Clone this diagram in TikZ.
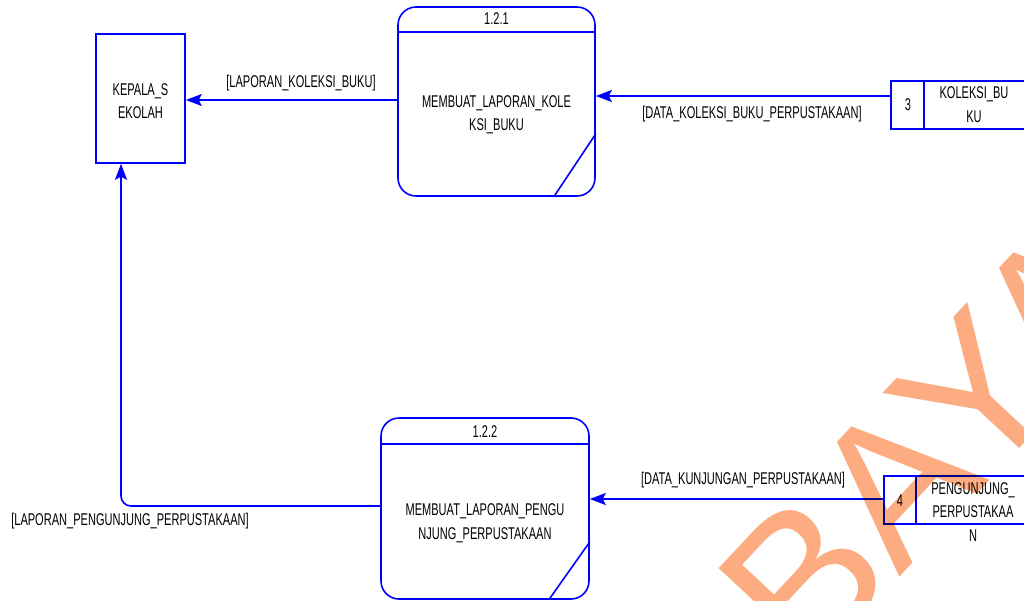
\documentclass[tikz,border=0pt]{standalone}
\usepackage{fontspec}
\setmainfont{Liberation Sans}[FakeStretch=0.65]
\newfontfamily\wmfont{Liberation Sans}
\usetikzlibrary{arrows.meta}
\definecolor{dfdblue}{RGB}{0,0,255}
\definecolor{wmorange}{RGB}{253,172,130}
\tikzset{
  ln/.style={draw=dfdblue, line width=1.6pt},
  entity/.style={ln, rectangle, inner sep=0pt},
  proc/.style={ln, rectangle, rounded corners=18pt, inner sep=0pt},
  store/.style={ln, rectangle, inner sep=0pt},
  txt/.style={inner sep=0pt, align=center, text=black},
  flow/.style={draw=dfdblue, line width=1.6pt, -{Stealth[length=16pt,width=12pt,inset=3pt]}},
}
\begin{document}
\begin{tikzpicture}[x=1pt, y=-1pt, font=\fontsize{17}{23.5}\selectfont]
\useasboundingbox (0,0) rectangle (1024,600);
\fill[white] (0,0) rectangle (1024,600);
\clip (0,0) rectangle (1024,600);

% external entity
\node[entity, minimum width=89pt, minimum height=129pt] (ext) at (140.5,98.5) {};
\node[txt] (extt) at (140.5,101) {KEPALA\_S\\EKOLAH};

% process 1.2.1
\node[proc, minimum width=197pt, minimum height=189pt] (p1) at (496.5,101.5) {};
\draw[ln] ([yshift=-26pt]p1.north west) -- ([yshift=-26pt]p1.north east);
\draw[ln] ([xshift=-42pt]p1.south east) -- ([yshift=63pt]p1.south east);
\node[txt] (p1id) at (496.5,19) {1.2.1};
\node[txt] (p1t) at (496.5,115) {MEMBUAT\_LAPORAN\_KOLE\\KSI\_BUKU};

% process 1.2.2
\node[proc, minimum width=208pt, minimum height=181pt] (p2) at (485,508.5) {};
\draw[ln] ([yshift=-27pt]p2.north west) -- ([yshift=-27pt]p2.north east);
\draw[ln] ([xshift=-41pt]p2.south east) -- ([yshift=58pt]p2.south east);
\node[txt] (p2id) at (485,432) {1.2.2};
\node[txt] (p2t) at (485,523) {MEMBUAT\_LAPORAN\_PENGU\\NJUNG\_PERPUSTAKAAN};

% data store 3
\node[store, minimum width=170pt, minimum height=48pt] (s3) at (976,105) {};
\draw[ln] ([xshift=34pt]s3.north west) -- ([xshift=34pt]s3.south west);
\node[txt] (s3n) at (908,105) {3};
\node[txt] (s3t) at (974,104.5) {KOLEKSI\_BU\\KU};

% data store 4
\node[store, minimum width=170pt, minimum height=48pt] (s4) at (969,500) {};
\draw[ln] ([xshift=33pt]s4.north west) -- ([xshift=33pt]s4.south west);
\node[txt] (s4n) at (900,501) {4};
\node[txt] (s4t) at (973,512) {PENGUNJUNG\_\\PERPUSTAKAA\\N};

% connectors
\coordinate (c1) at (0,100);
\coordinate (c2) at (0,96);
\coordinate (c3) at (0,499);
\coordinate (c4) at (121,506);
\draw[flow] (p1.west |- c1) -- (ext.east |- c1);
\draw[flow] (s3.west |- c2) -- (p1.east |- c2);
\draw[flow] (s4.west |- c3) -- (p2.east |- c3);
\draw[flow, rounded corners=10pt] (p2.west |- c4) -- (c4) -- (ext.south -| c4);

% labels
\node[txt] (l1) at (301,83) {[LAPORAN\_KOLEKSI\_BUKU]};
\node[txt] (l2) at (752,114) {[DATA\_KOLEKSI\_BUKU\_PERPUSTAKAAN]};
\node[txt] (l3) at (743,480) {[DATA\_KUNJUNGAN\_PERPUSTAKAAN]};
\node[txt] (l4) at (130,521) {[LAPORAN\_PENGUNJUNG\_PERPUSTAKAAN]};

% watermark
\begin{scope}[blend mode=multiply]
\node[inner sep=0pt, anchor=base west, rotate=47, text=wmorange, font=\wmfont\fontsize{200}{200}\selectfont] (wm) at (808.5,675) {BAYA};
\end{scope}
\end{tikzpicture}
\end{document}
